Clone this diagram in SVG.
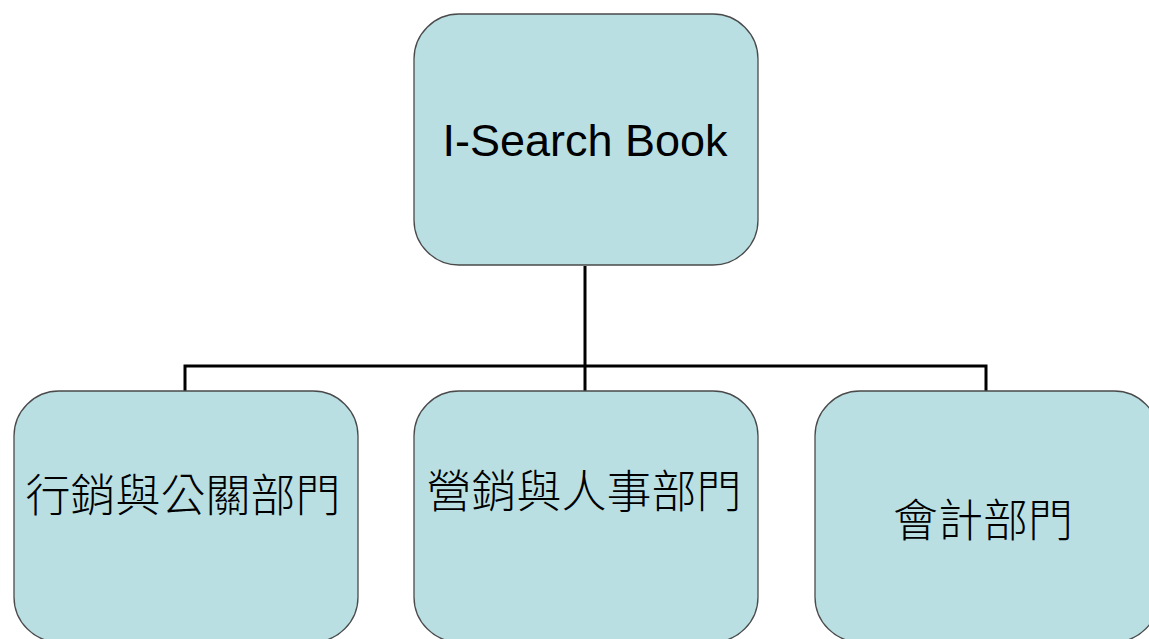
<svg xmlns="http://www.w3.org/2000/svg" width="1149" height="639" viewBox="0 0 1149 639">
<style>
.box{fill:#b9dfe3;stroke:#4a4a4a;stroke-width:1.3}
.lat{font-family:"Liberation Sans",Arial,sans-serif;font-size:45px;fill:#000;text-anchor:middle}
.cjk{font-family:"Liberation Serif","Noto Sans CJK TC",serif;font-weight:300;font-size:45px;fill:#000;text-anchor:middle;dominant-baseline:central}
.conn{fill:none;stroke:#000;stroke-width:3}
</style>
<rect width="1149" height="639" fill="#fff"/>
<g id="connectors">
<path class="conn" d="M585,266 V366 M185,391 V366 H986 V391 M585,366 V391"/>
</g>
<g id="root">
<rect class="box" x="414" y="14" width="344" height="251" rx="45"/>
<text class="lat" x="585" y="156">I-Search Book</text>
</g>
<g id="marketing-pr">
<rect class="box" x="14" y="391" width="344" height="251" rx="45"/>
<text class="cjk" x="183" y="497">行銷與公關部門</text>
</g>
<g id="sales-hr">
<rect class="box" x="414" y="391" width="344" height="251" rx="45"/>
<text class="cjk" x="584" y="493">營銷與人事部門</text>
</g>
<g id="accounting">
<rect class="box" x="815" y="391" width="344" height="251" rx="45"/>
<text class="cjk" x="983" y="522">會計部門</text>
</g>
</svg>
